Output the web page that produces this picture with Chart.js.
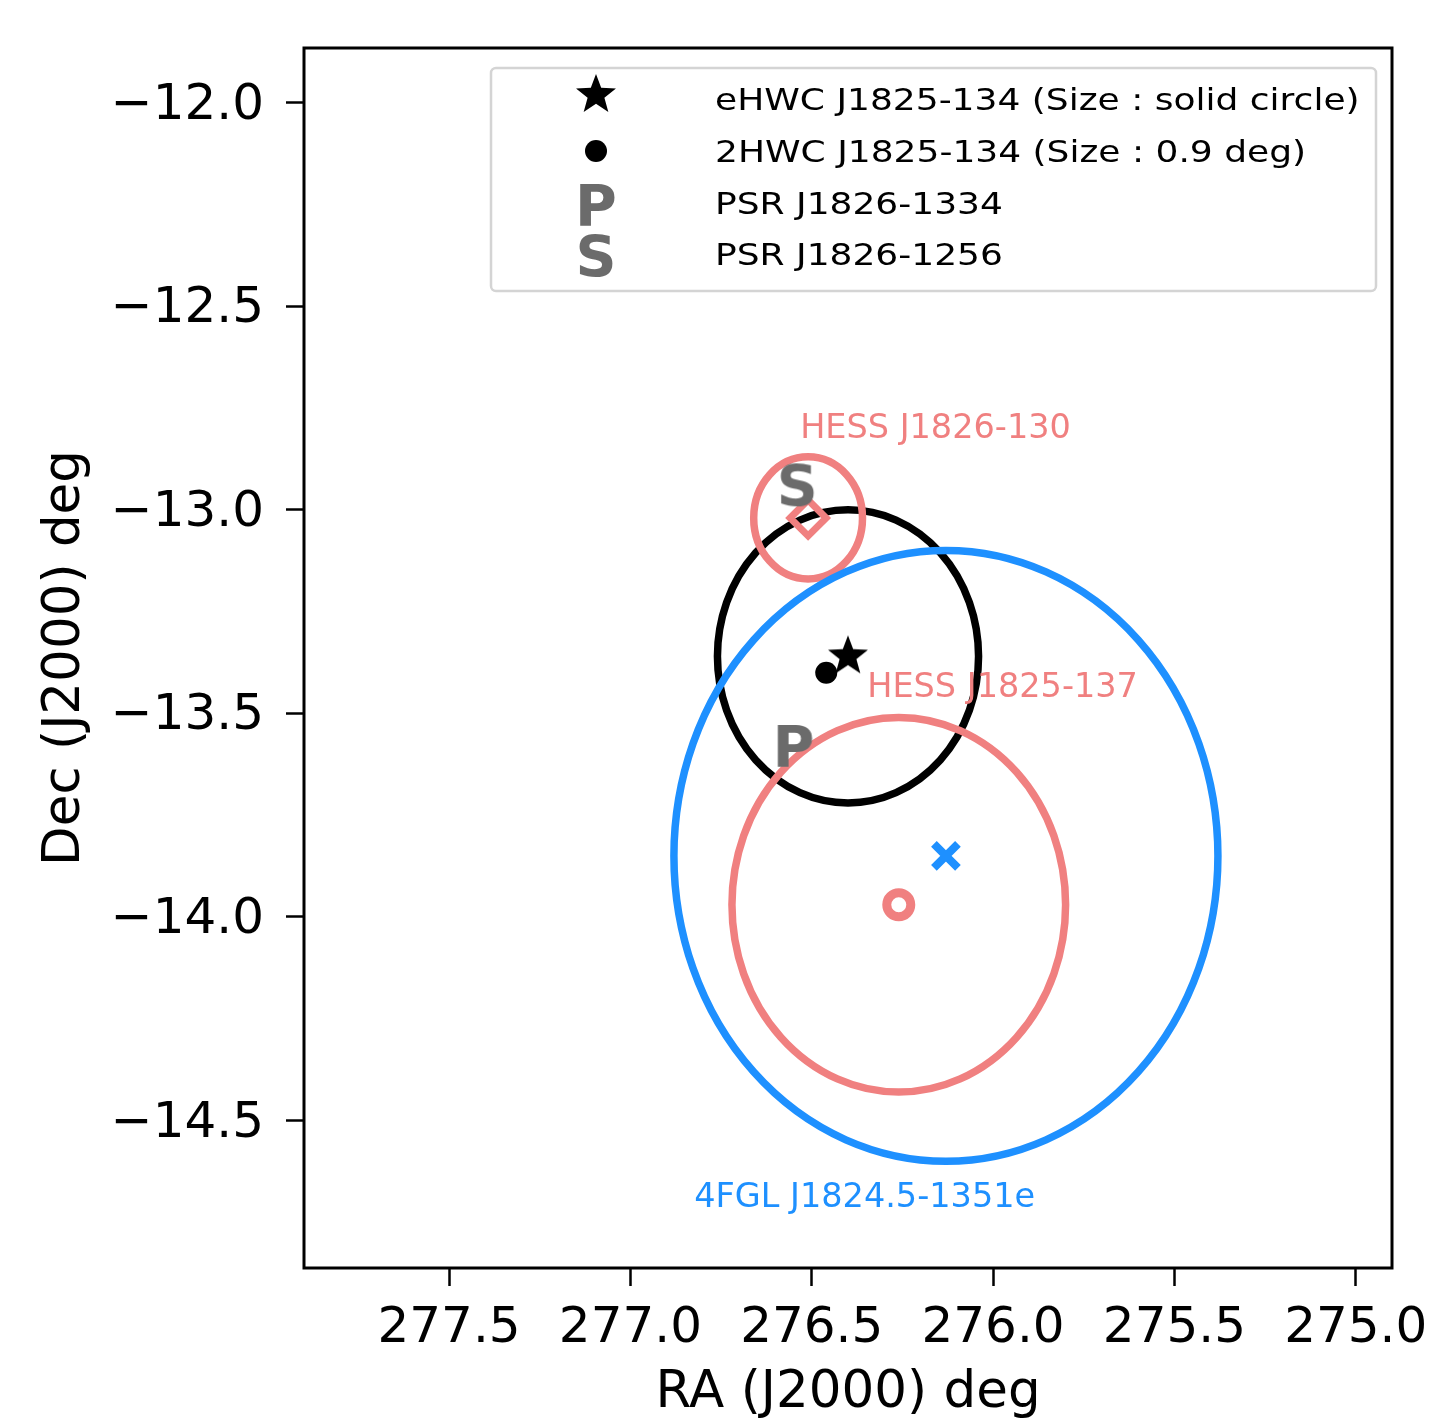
<!DOCTYPE html>
<html>
<head>
<meta charset="utf-8">
<title>HESS J1825-137 region</title>
<script src="https://cdn.jsdelivr.net/npm/chart.js@4.4.1/dist/chart.umd.min.js"></script>
<style>
  html, body { margin: 0; padding: 0; background: #fff; }
  canvas { display: block; }
</style>
</head>
<body>
<canvas id="skyChart" width="1435" height="1428"></canvas>
<script>
// Source positions, RA / Dec (J2000) in deg
const ehwcRA = [276.40];
const ehwcDec = [-13.36];
const hwc2RA = [276.46];
const hwc2Dec = [-13.40];
const psr1334RA = [276.55];
const psr1334Dec = [-13.58];
const psr1256RA = [276.54];
const psr1256Dec = [-12.94];
const hess130RA = [276.51];
const hess130Dec = [-13.02];
const hess137RA = [276.26];
const hess137Dec = [-13.97];
const fglRA = [276.13];
const fglDec = [-13.85];

// Source extents (circle radius in deg)
const circleRA = [276.40, 276.51, 276.26, 276.13];
const circleDec = [-13.36, -13.02, -13.97, -13.85];
const circleRadius = [0.36, 0.15, 0.46, 0.75];

// Text labels in the plot
const labelTexts = ['HESS J1826-130', 'HESS J1825-137', '4FGL J1824.5-1351e'];
const labelRA = [276.532, 276.347, 276.824];
const labelDec = [-12.824, -13.459, -14.712];

// Legend entries
const legendTexts = [
  'eHWC J1825-134 (Size : solid circle)',
  '2HWC J1825-134 (Size : 0.9 deg)',
  'PSR J1826-1334',
  'PSR J1826-1256'
];

// Axes
const xTicks = [277.5, 277.0, 276.5, 276.0, 275.5, 275.0];
const yTicks = [-12.0, -12.5, -13.0, -13.5, -14.0, -14.5];
const xRange = [274.9, 277.9];
const yRange = [-14.862, -11.866];

const PINK = '#F08080';
const BLUE = '#1E90FF';
const GREY = '#6b6b6b';
const circleColors = ['#000000', PINK, PINK, BLUE];
const labelColors = [PINK, PINK, BLUE];

Chart.defaults.font.family = '"DejaVu Sans", sans-serif';

const points = (ra, dec) => ra.map((v, i) => ({ x: v, y: dec[i] }));
const fmt = v => v.toFixed(1).replace('-', '\u2212');

// Marker images
function makeStar(r) {
  const size = Math.ceil(r * 2 + 4);
  const c = document.createElement('canvas');
  c.width = c.height = size;
  const g = c.getContext('2d');
  g.beginPath();
  for (let i = 0; i < 10; i++) {
    const rr = i % 2 === 0 ? r : r * 0.42;
    const a = -Math.PI / 2 + i * Math.PI / 5;
    g.lineTo(size / 2 + rr * Math.cos(a), size / 2 + rr * Math.sin(a));
  }
  g.closePath();
  g.fillStyle = '#000';
  g.fill();
  return c;
}

function makeLetter(ch) {
  const c = document.createElement('canvas');
  c.width = 60;
  c.height = 64;
  const g = c.getContext('2d');
  g.font = 'bold 57px "DejaVu Sans"';
  g.fillStyle = GREY;
  g.textAlign = 'center';
  g.textBaseline = 'alphabetic';
  g.fillText(ch, 30, 32 + 0.729 * 57 / 2);
  return c;
}

const starImg = makeStar(21);
const pImg = makeLetter('P');
const sImg = makeLetter('S');

// Extension circles, drawn in data space (ellipses in pixels)
const circlesPlugin = {
  id: 'circles',
  beforeDatasetsDraw(chart) {
    const { ctx, scales: { x, y }, chartArea } = chart;
    ctx.save();
    ctx.beginPath();
    ctx.rect(chartArea.left, chartArea.top, chartArea.right - chartArea.left, chartArea.bottom - chartArea.top);
    ctx.clip();
    ctx.lineWidth = 7.5;
    circleRA.forEach((ra, i) => {
      const cx = x.getPixelForValue(ra);
      const cy = y.getPixelForValue(circleDec[i]);
      const rx = Math.abs(x.getPixelForValue(ra + circleRadius[i]) - cx);
      const ry = Math.abs(y.getPixelForValue(circleDec[i] + circleRadius[i]) - cy);
      ctx.beginPath();
      ctx.ellipse(cx, cy, rx, ry, 0, 0, Math.PI * 2);
      ctx.strokeStyle = circleColors[i];
      ctx.stroke();
    });
    ctx.restore();
  }
};

// Source name labels
const labelsPlugin = {
  id: 'labels',
  afterDatasetsDraw(chart) {
    const { ctx, scales: { x, y } } = chart;
    ctx.save();
    ctx.font = '33.5px "DejaVu Sans"';
    ctx.textAlign = 'left';
    ctx.textBaseline = 'alphabetic';
    labelTexts.forEach((t, i) => {
      ctx.fillStyle = labelColors[i];
      ctx.fillText(t, x.getPixelForValue(labelRA[i]), y.getPixelForValue(labelDec[i]));
    });
    ctx.restore();
  }
};

// Axes frame + legend box
const frameLegendPlugin = {
  id: 'frameLegend',
  afterDraw(chart) {
    const { ctx, chartArea: a } = chart;
    ctx.save();
    ctx.lineWidth = 3;
    ctx.strokeStyle = '#000';
    ctx.strokeRect(a.left, a.top, a.right - a.left, a.bottom - a.top);

    // legend
    const box = { left: 491, top: 68, right: 1376, bottom: 291 };
    ctx.beginPath();
    ctx.roundRect(box.left, box.top, box.right - box.left, box.bottom - box.top, 5);
    ctx.fillStyle = 'rgba(255,255,255,0.8)';
    ctx.fill();
    ctx.lineWidth = 2.5;
    ctx.strokeStyle = '#d4d4d4';
    ctx.stroke();

    const markerX = 596;
    const textX = 715;
    const rowMid = [95, 151, 205, 256];
    const rowBase = [110, 162, 214, 265];
    legendTexts.forEach((t, i) => {
      const ds = chart.data.datasets[i];
      const st = ds.pointStyle;
      if (typeof st === 'object') {
        ctx.drawImage(st, markerX - st.width / 2, rowMid[i] - st.height / 2);
      } else {
        ctx.beginPath();
        ctx.arc(markerX, rowMid[i], ds.pointRadius, 0, Math.PI * 2);
        ctx.fillStyle = ds.backgroundColor;
        ctx.fill();
      }
      ctx.save();
      ctx.translate(textX, rowBase[i]);
      ctx.scale(1.2, 1);
      ctx.font = '30px "DejaVu Sans"';
      ctx.fillStyle = '#000';
      ctx.textAlign = 'left';
      ctx.textBaseline = 'alphabetic';
      ctx.fillText(t, 0, 0);
      ctx.restore();
    });
    ctx.restore();
  }
};

const tickFont = { size: 50 };
const titleFont = { size: 51.5 };

new Chart(document.getElementById('skyChart'), {
  type: 'scatter',
  data: {
    datasets: [
      { label: legendTexts[0], data: points(ehwcRA, ehwcDec), pointStyle: starImg, pointRadius: 21 },
      { label: legendTexts[1], data: points(hwc2RA, hwc2Dec), pointStyle: 'circle', pointRadius: 11,
        backgroundColor: '#000', borderColor: '#000', borderWidth: 0 },
      { label: legendTexts[2], data: points(psr1334RA, psr1334Dec), pointStyle: pImg, pointRadius: 22 },
      { label: legendTexts[3], data: points(psr1256RA, psr1256Dec), pointStyle: sImg, pointRadius: 22 },
      { label: 'HESS J1826-130', data: points(hess130RA, hess130Dec), pointStyle: 'rectRot', pointRadius: 18,
        backgroundColor: 'rgba(0,0,0,0)', borderColor: PINK, borderWidth: 7 },
      { label: 'HESS J1825-137', data: points(hess137RA, hess137Dec), pointStyle: 'circle', pointRadius: 12,
        backgroundColor: 'rgba(0,0,0,0)', borderColor: PINK, borderWidth: 9 },
      { label: '4FGL J1824.5-1351e', data: points(fglRA, fglDec), pointStyle: 'crossRot', pointRadius: 17,
        borderColor: BLUE, borderWidth: 8 }
    ]
  },
  options: {
    responsive: false,
    animation: false,
    devicePixelRatio: 1,
    layout: { padding: { top: 48, right: 43, left: 0, bottom: 0 } },
    plugins: { legend: { display: false }, tooltip: { enabled: false } },
    scales: {
      x: {
        type: 'linear',
        reverse: true,
        min: xRange[0],
        max: xRange[1],
        afterBuildTicks: s => { s.ticks = xTicks.map(v => ({ value: v })); },
        afterFit: s => { s.height = 160; s.paddingLeft = 0; s.paddingRight = 0; },
        ticks: { autoSkip: false, maxRotation: 0, padding: 13, color: '#000', font: tickFont, callback: v => fmt(v) },
        grid: { drawOnChartArea: false, drawTicks: true, tickLength: 18, tickWidth: 2.5, tickColor: '#000' },
        border: { display: false },
        title: { display: true, text: 'RA (J2000) deg', color: '#000', font: titleFont, padding: { top: 0, bottom: 3 } }
      },
      y: {
        type: 'linear',
        min: yRange[0],
        max: yRange[1],
        afterBuildTicks: s => { s.ticks = yTicks.map(v => ({ value: v })); },
        afterFit: s => { s.width = 304; s.paddingTop = 0; s.paddingBottom = 0; },
        ticks: { autoSkip: false, padding: 22, labelOffset: 3, color: '#000', font: tickFont, callback: v => fmt(v) },
        grid: { drawOnChartArea: false, drawTicks: true, tickLength: 18, tickWidth: 2.5, tickColor: '#000' },
        border: { display: false },
        title: { display: true, text: 'Dec (J2000) deg', color: '#000', font: titleFont, padding: { top: 35, bottom: 0 } }
      }
    }
  },
  plugins: [circlesPlugin, labelsPlugin, frameLegendPlugin]
});
</script>
</body>
</html>
